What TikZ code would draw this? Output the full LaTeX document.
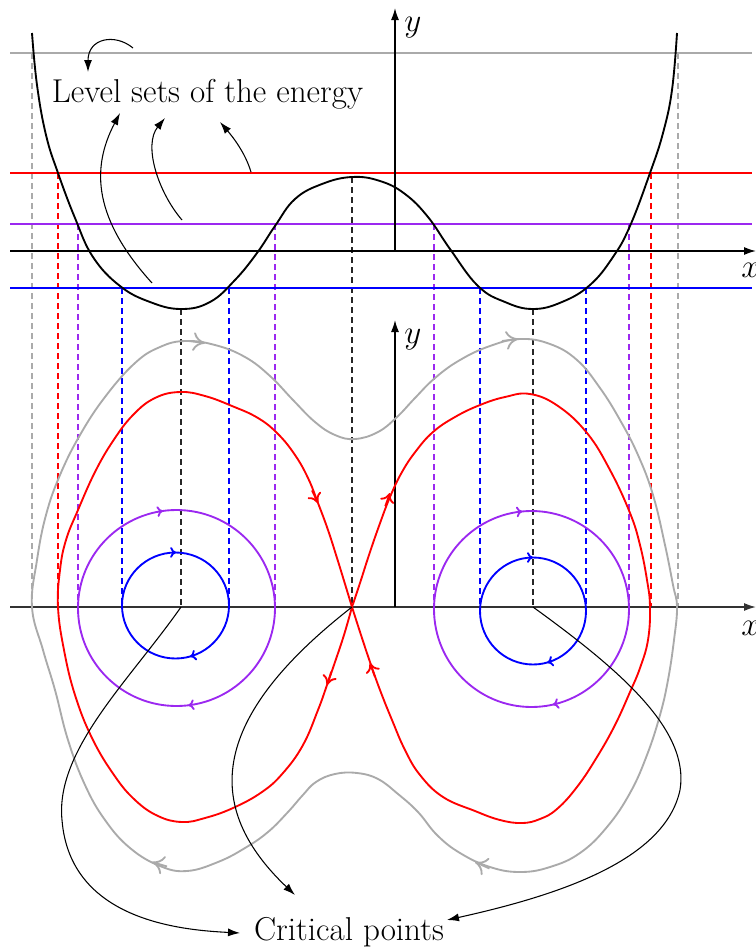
\documentclass[tikz,border=0pt]{standalone}
\usetikzlibrary{arrows.meta,decorations.markings}
\definecolor{lvpurple}{RGB}{155,40,240}
\definecolor{lvgray}{RGB}{170,170,170}
\definecolor{lvred}{RGB}{255,0,0}
\definecolor{lvblue}{RGB}{0,0,255}
\begin{document}
\begin{tikzpicture}[x=0.75pt,y=-0.75pt, line join=round,
  curve/.style={line width=1.4pt},
  guide/.style={line width=1.3pt, dash pattern=on 4.5pt off 3pt},
  ann/.style={line width=0.8pt, -{Latex[length=9pt,width=6pt]}},
  axis/.style={line width=1.1pt, -{Latex[length=9pt,width=6pt]}},
  lbl/.style={font=\fontsize{24.8}{29}\selectfont, inner sep=0pt},
  arrG/.style={lvgray, line width=1.4pt, -{To[length=9pt,width=14pt]}},
  arrR/.style={lvred, line width=1.4pt, -{To[length=7pt,width=11pt]}},
  mk/.style 2 args={postaction={decorate}, decoration={markings,
     mark=at position #1 with {\arrow{To[length=4.5pt,width=8pt]}},
     mark=at position #2 with {\arrow{To[length=4.5pt,width=8pt]}}}},
  ]
\useasboundingbox (0,0) rectangle (756,947);

% ---------- dashed guides ----------
\draw[guide, lvgray] (32,53) -- (32,607);
\draw[guide, lvgray] (678,53) -- (678,607);
\draw[guide, lvred] (58,173) -- (58,607);
\draw[guide, lvred] (651,173) -- (651,607);
\foreach \xx in {78,275,434,629} \draw[guide, lvpurple] (\xx,224) -- (\xx,607);
\foreach \xx in {122,229,480,586} \draw[guide, lvblue] (\xx,288) -- (\xx,607);
\draw[guide, black!85] (181,309) -- (181,607);
\draw[guide, black!85] (352,177) -- (352,607);
\draw[guide, black!85] (533,309) -- (533,607);

% ---------- level lines ----------
\draw[curve, lvgray] (10,53) -- (752,53);
\draw[curve, lvred] (10,173) -- (752,173);
\draw[curve, lvpurple] (10,224) -- (752,224);
\draw[curve, lvblue] (10,288) -- (752,288);

% ---------- axes ----------
\draw[axis] (10,251) -- (756,251);
\draw[axis] (395,251) -- (395,8);
\node[lbl, anchor=base west] (ytop) at (404,31) {$y$};
\node[lbl, anchor=base west] (xtop) at (741,277) {$x$};
\draw[axis, black!80] (10,607) -- (756,607);
\draw[axis] (395,607) -- (395,320);
\node[lbl, anchor=base west] (ybot) at (404,343) {$y$};
\node[lbl, anchor=base west] (xbot) at (741,635) {$x$};

% ---------- potential ----------
\draw[curve] plot[smooth, tension=0.7] coordinates {(32,33) (37,85) (46,135) (58,173) (75,218) (93,257) (120,286) (150,302) (181,309) (210,302) (235,280) (257,253) (275,226) (295,199) (322,184) (352,177) (380,181) (405,194) (428,217) (450,249) (478,286) (505,302) (533,309) (562,302) (590,285) (613,257) (630,226) (650,173) (663,133) (672,90) (677,33)};

% ---------- phase portrait ----------
\draw[curve, lvgray] plot[smooth cycle, tension=0.7] coordinates {(32,607) (37,560) (46,515) (60,475) (80,435) (105,397) (135,363) (160,347) (185,341) (215,345) (245,357) (270,376) (293,400) (315,422) (335,435) (355,439) (378,432) (397,417) (415,398) (435,378) (460,360) (490,346) (520,339) (550,344) (577,360) (600,388) (620,420) (638,455) (653,495) (665,545) (673,585) (677,607) (674,640) (668,680) (660,715) (647,755) (630,793) (607,827) (580,853) (550,867) (520,872) (490,867) (460,853) (437,835) (418,812) (398,794) (378,779) (357,773) (335,774) (316,782) (302,796) (288,812) (268,832) (245,848) (218,862) (187,871) (160,866) (130,848) (105,820) (85,785) (68,740) (55,690) (43,650)};

\draw[curve, lvred] plot[smooth, tension=0.7] coordinates {(352,607) (344,635) (335,662) (327,685) (318,710) (303,745) (283,773) (262,792) (233,808) (205,818) (182,822) (158,816) (135,800) (114,775) (92,738) (75,695) (64,650) (58,607) (60,570) (66,540) (78,510) (95,472) (113,441) (133,415) (155,398) (180,392) (205,396) (232,406) (258,418) (278,434) (295,455) (308,478) (318,503) (328,530) (337,558) (345,584) (352,607)};
\draw[curve, lvred] plot[smooth, tension=0.7] coordinates {(352,607) (360,583) (369,555) (379,526) (390,497) (402,472) (416,451) (433,432) (455,417) (480,405) (505,397) (530,394) (558,406) (587,433) (610,470) (630,513) (640,545) (647,580) (650,607) (648,640) (640,668) (630,692) (615,725) (597,757) (577,787) (557,809) (540,819) (522,823) (500,820) (475,811) (443,797) (420,775) (405,750) (392,720) (380,690) (370,662) (361,635) (352,607)};

\draw[curve, lvblue, mk={0.206}{0.752}] (175.5,605.5) ellipse [x radius=53.5, y radius=53];
\draw[curve, lvpurple, mk={0.231}{0.728}] (176.5,608) ellipse [x radius=98.5, y radius=98];
\draw[curve, lvblue, mk={0.207}{0.75}] (533,611) ellipse [x radius=53, y radius=53.5];
\draw[curve, lvpurple, mk={0.215}{0.735}] (531.5,609) ellipse [x radius=97.5, y radius=98];

% flow arrows
\draw[arrG] (189,341) -- (205,343);
\draw[arrG] (502,341) -- (518,339);
\draw[arrG] (489.5,868.5) -- (475,862);
\draw[arrG] (167,866.5) -- (152,862);
\draw[arrR] (312,490.4) -- (318,503);
\draw[arrR] (385.3,506.2) -- (390,493);
\draw[arrR] (331.3,671.7) -- (327,685);
\draw[arrR] (374.7,676.2) -- (370,663);

% ---------- annotations ----------
\node[lbl, anchor=base] (lev) at (207.5,102) {Level sets of the energy};
\node[lbl, anchor=base] (crit) at (349,940) {Critical points};

\coordinate (g1) at (133,48);
\coordinate (b1) at (152,283);
\coordinate (p1) at (182,220);
\coordinate (r1) at (251,172);
\draw[ann] (g1) .. controls (115,33) and (88,38) .. (88,72);
\draw[ann] (b1) .. controls (95,220) and (90,170) .. (120,113);
\draw[ann] (p1) .. controls (158,192) and (143,145) .. (165,118);
\draw[ann] (r1) .. controls (245,152) and (232,136) .. (220,122);

\coordinate (c1) at (181,607);
\coordinate (c2) at (352,607);
\coordinate (c3) at (533,607);
\draw[ann] (c1) .. controls (130,680) and (55,750) .. (62,820) .. controls (70,920) and (180,930) .. (240,933);
\draw[ann] (c2) .. controls (220,710) and (195,800) .. (295,895);
\draw[ann] (c3) .. controls (620,670) and (690,730) .. (680,790) .. controls (665,860) and (560,895) .. (447,920);
\end{tikzpicture}
\end{document}
